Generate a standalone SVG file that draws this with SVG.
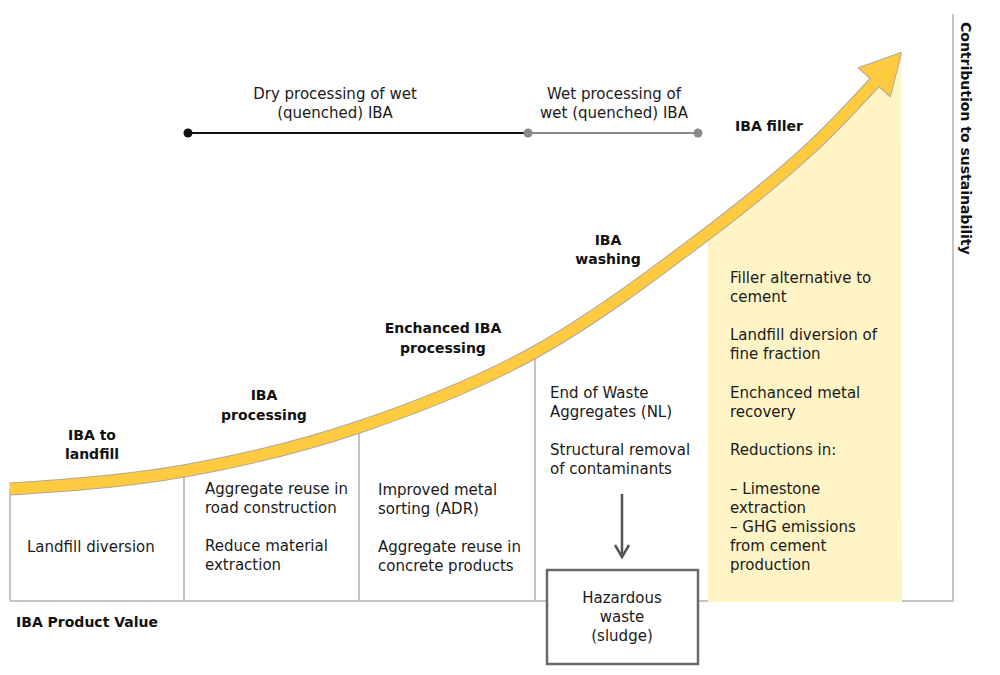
<svg xmlns="http://www.w3.org/2000/svg" width="1000" height="675" viewBox="0 0 1000 675">
<style>
.t{font-family:"DejaVu Sans","Liberation Sans",sans-serif;font-size:15px;fill:#1a1a1a}
.b{font-family:"DejaVu Sans","Liberation Sans",sans-serif;font-size:14px;font-weight:bold;fill:#111}
.c{text-anchor:middle}
.div{stroke:#c4c4c4;stroke-width:2;fill:none}
</style>
<defs>
<path id="curve" d="M10,489 C68,485.5 126,481.3 184,471 C242.3,460.65 300.67,446.76 359,427 C417.67,407.12 476.33,384.68 535,352 C592.67,319.88 650.33,276.73 708,233 C743,206.46 778,178.57 813,146 C833.67,126.77 854.33,104.53 875,82 L881,75.5" fill="none"/>
</defs>
<rect width="1000" height="675" fill="#ffffff"/>
<g id="axes">
<line class="div" x1="10" y1="601" x2="954" y2="601"/>
<line class="div" x1="953" y1="14" x2="953" y2="602"/>
<line class="div" x1="10" y1="489" x2="10" y2="601"/>
<line class="div" x1="184" y1="471" x2="184" y2="601"/>
<line class="div" x1="359" y1="427" x2="359" y2="601"/>
<line class="div" x1="535" y1="352" x2="535" y2="601"/>
</g>
<g id="filler-area">
<path d="M708,602 L708,233 C743,206.46 778,178.57 813,146 C833.67,126.77 854.33,104.53 875,82 L901,53 L902,602 Z" fill="#fff4c6"/>
</g>
<g id="curve-arrow">
<use href="#curve" stroke="#b0a89a" stroke-width="13"/>
<polygon points="901,53 859,68 890,96" fill="#b0a89a" stroke="#b0a89a" stroke-width="2" stroke-linejoin="round"/>
<use href="#curve" stroke="#fdca40" stroke-width="11"/>
<polygon points="901,53 859,68 890,96" fill="#fdca40"/>
</g>
<g id="timeline">
<line x1="188" y1="133" x2="528" y2="133" stroke="#111" stroke-width="2"/>
<line x1="528" y1="133" x2="698" y2="133" stroke="#8a8a8a" stroke-width="2"/>
<circle cx="188" cy="133" r="4.5" fill="#111"/>
<circle cx="528" cy="133" r="4.5" fill="#8a8a8a"/>
<circle cx="698" cy="133" r="4.5" fill="#8a8a8a"/>
<text class="t c" x="335" y="99">Dry processing of wet</text>
<text class="t c" x="335" y="118">(quenched) IBA</text>
<text class="t c" x="614" y="99">Wet processing of</text>
<text class="t c" x="614" y="118">wet (quenched) IBA</text>
</g>
<g id="stage-labels">
<text class="b c" x="92" y="440">IBA to</text>
<text class="b c" x="92" y="459">landfill</text>
<text class="b c" x="264" y="400">IBA</text>
<text class="b c" x="264" y="420">processing</text>
<text class="b c" x="443" y="333">Enchanced IBA</text>
<text class="b c" x="443" y="353">processing</text>
<text class="b c" x="608" y="245">IBA</text>
<text class="b c" x="608" y="264">washing</text>
<text class="b c" x="769" y="131">IBA filler</text>
</g>
<g id="col-landfill">
<text class="t" x="27" y="552">Landfill diversion</text>
</g>
<g id="col-processing">
<text class="t" x="205" y="494">Aggregate reuse in</text>
<text class="t" x="205" y="513">road construction</text>
<text class="t" x="205" y="551">Reduce material</text>
<text class="t" x="205" y="570">extraction</text>
</g>
<g id="col-enhanced">
<text class="t" x="378" y="495">Improved metal</text>
<text class="t" x="378" y="514">sorting (ADR)</text>
<text class="t" x="378" y="552">Aggregate reuse in</text>
<text class="t" x="378" y="571">concrete products</text>
</g>
<g id="col-washing">
<text class="t" x="550" y="398">End of Waste</text>
<text class="t" x="550" y="417">Aggregates (NL)</text>
<text class="t" x="550" y="455">Structural removal</text>
<text class="t" x="550" y="474">of contaminants</text>
</g>
<g id="col-filler">
<text class="t" x="730" y="283">Filler alternative to</text>
<text class="t" x="730" y="302">cement</text>
<text class="t" x="730" y="340">Landfill diversion of</text>
<text class="t" x="730" y="359">fine fraction</text>
<text class="t" x="730" y="398">Enchanced metal</text>
<text class="t" x="730" y="417">recovery</text>
<text class="t" x="730" y="455">Reductions in:</text>
<text class="t" x="730" y="494">– Limestone</text>
<text class="t" x="730" y="513">extraction</text>
<text class="t" x="730" y="532">– GHG emissions</text>
<text class="t" x="730" y="551">from cement</text>
<text class="t" x="730" y="570">production</text>
</g>
<g id="connectors">
<line x1="622" y1="494" x2="622" y2="557" stroke="#555" stroke-width="2.5"/>
<polyline points="615,545 622,557 629,545" fill="none" stroke="#555" stroke-width="2.5"/>
</g>
<g id="sludge">
<rect x="547" y="570" width="151" height="94" fill="#ffffff" stroke="#6a6a6a" stroke-width="2.5"/>
<text class="t c" x="622" y="603">Hazardous</text>
<text class="t c" x="622" y="622">waste</text>
<text class="t c" x="622" y="641">(sludge)</text>
</g>
<g id="axis-labels">
<text class="b" x="16" y="627">IBA Product Value</text>
<text class="b" transform="translate(961,22) rotate(90)">Contribution to sustainability</text>
</g>
</svg>
